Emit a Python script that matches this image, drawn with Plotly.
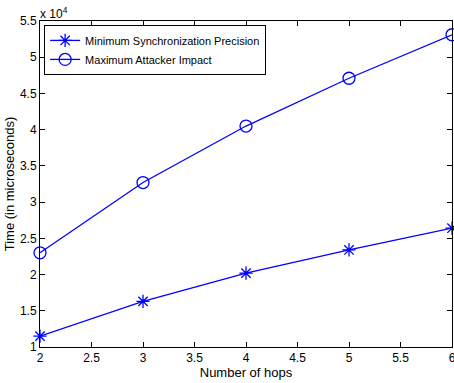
import plotly.graph_objects as go

hops = [2, 3, 4, 5, 6]
min_sync_precision = [11500, 16300, 20200, 23400, 26400]
max_attacker_impact = [23000, 32700, 40500, 47100, 53100]

x_ticks = [2, 2.5, 3, 3.5, 4, 4.5, 5, 5.5, 6]
x_tick_labels = ["2", "2.5", "3", "3.5", "4", "4.5", "5", "5.5", "6"]
y_ticks = [10000, 15000, 20000, 25000, 30000, 35000, 40000, 45000, 50000, 55000]
y_tick_labels = ["1", "1.5", "2", "2.5", "3", "3.5", "4", "4.5", "5", "5.5"]

blue = "#0000ff"
fig = go.Figure()
fig.add_trace(go.Scatter(
    x=hops, y=min_sync_precision, mode="lines+markers",
    name="Minimum Synchronization Precision",
    line=dict(color=blue, width=1.3),
    marker=dict(symbol="asterisk-open", size=11, color=blue, line=dict(color=blue, width=1.3)),
    cliponaxis=False,
))
fig.add_trace(go.Scatter(
    x=hops, y=max_attacker_impact, mode="lines+markers",
    name="Maximum Attacker Impact",
    line=dict(color=blue, width=1.3),
    marker=dict(symbol="circle-open", size=12, color=blue, line=dict(color=blue, width=1.3)),
    cliponaxis=False,
))

axis_common = dict(
    showline=True, linecolor="black", linewidth=1, mirror="ticks",
    ticks="inside", ticklen=5, tickcolor="black", showgrid=False, zeroline=False,
    tickfont=dict(family="Liberation Sans, Arial", size=12, color="black"),
    automargin=False, ticklabeloverflow="allow",
)
fig.update_xaxes(range=[2, 6], tickvals=x_ticks, ticktext=x_tick_labels,
                 title=dict(text="Number of hops", standoff=2,
                            font=dict(family="Liberation Sans, Arial", size=13, color="black")),
                 **axis_common)
fig.update_yaxes(range=[10000, 55000], tickvals=y_ticks, ticktext=y_tick_labels,
                 title=dict(text="Time (in microseconds)", standoff=2,
                            font=dict(family="Liberation Sans, Arial", size=13, color="black")),
                 **axis_common)

fig.add_annotation(x=0, y=1, xref="paper", yref="paper", xanchor="left", yanchor="bottom",
                   text="x 10<sup>4</sup>", showarrow=False, xshift=-2, yshift=-2,
                   font=dict(family="Liberation Sans, Arial", size=12, color="black"))

fig.update_layout(
    width=454, height=383,
    margin=dict(l=40, r=2, t=21, b=36, autoexpand=False),
    paper_bgcolor="white", plot_bgcolor="white",
    legend=dict(x=0.01, y=0.988, xanchor="left", yanchor="top",
                bgcolor="white", bordercolor="black", borderwidth=1,
                font=dict(family="Liberation Sans, Arial", size=11, color="black"),
                tracegroupgap=0, itemwidth=30),
    showlegend=True,
)
fig.write_html("out.html", config={"displayModeBar": False},
               post_script="document.body.style.margin='0';")
